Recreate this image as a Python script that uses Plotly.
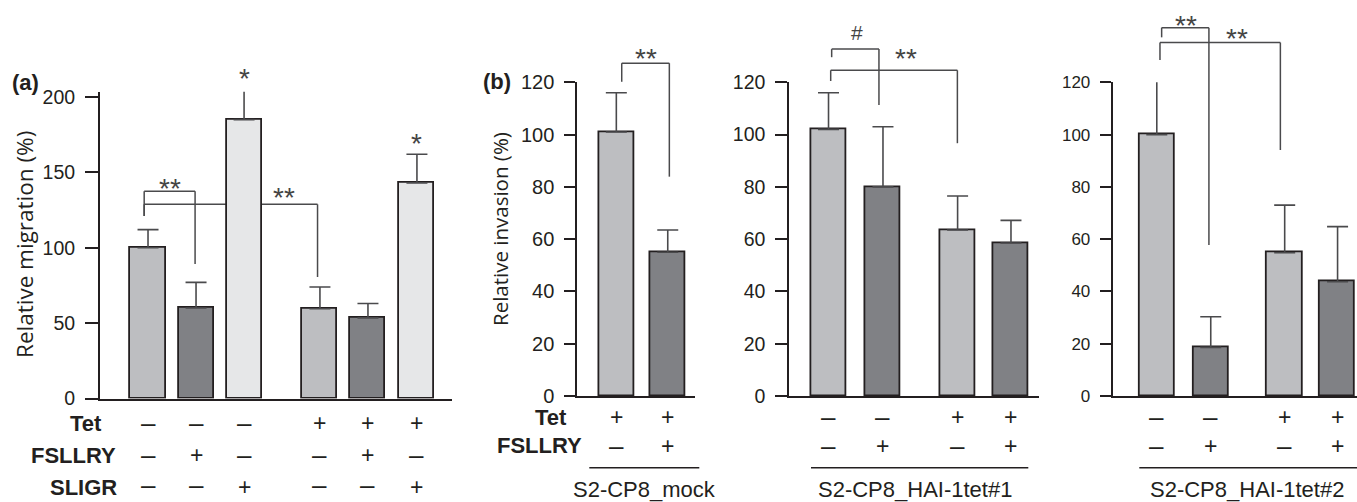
import plotly.graph_objects as go

W, H = 1357, 502

# ---------------- data ----------------
a_tet    = ["–", "–", "–", "+", "+", "+"]
a_fsllry = ["–", "+", "–", "–", "+", "–"]
a_sligr  = ["–", "–", "+", "–", "–", "+"]
a_mean   = [100, 60, 185, 59.5, 53.5, 143]
a_err    = [12, 17, 20, 14.5, 9.5, 19]
a_ticks  = [0, 50, 100, 150, 200]

b1_tet    = ["+", "+"]
b1_fsllry = ["–", "+"]
b1_mean   = [101, 55]
b1_err    = [15, 8.5]

b2_tet    = ["–", "–", "+", "+"]
b2_fsllry = ["–", "+", "–", "+"]
b2_mean   = [102, 80, 63.5, 58.5]
b2_err    = [14, 23, 13, 8.7]

b3_tet    = ["–", "–", "+", "+"]
b3_fsllry = ["–", "+", "–", "+"]
b3_mean   = [100, 18.6, 54.8, 43.7]
b3_err    = [27, 11.7, 18.2, 21.1]

b_ticks = [0, 20, 40, 60, 80, 100, 120]

cell_lines = ["S2-CP8_mock", "S2-CP8_HAI-1tet#1", "S2-CP8_HAI-1tet#2"]

# significance brackets: x1, x2 (axis units), y level, left/right leg ends, label, label x/y
a_sig = [
    dict(x1=0.92, x2=1.98, y=137.4, yl=121, yr=89.2, text="**", tx=1.46, ty=143.8),
    dict(x1=0.92, x2=4.53, y=128.8, yl=121, yr=80.6, text="**", tx=3.83, ty=137.8),
]
a_star = [dict(x=3, y=216.8), dict(x=6.6, y=173.7)]
b1_sig = [dict(x1=1.105, x2=2.031, y=127.3, yl=120.2, yr=83.9, text="**", tx=1.572, ty=131.7)]
b2_sig = [
    dict(x1=1.058, x2=1.926, y=132.7, yl=129.6, yr=111.3, text="#", tx=1.517, ty=139.1),
    dict(x1=1.04, x2=3.366, y=124.6, yl=120.5, yr=96.7, text="**", tx=2.416, ty=131.5),
]
b3_sig = [
    dict(x1=1.09, x2=1.966, y=140.9, yl=137.2, yr=57.8, text="**", tx=1.54, ty=144.2),
    dict(x1=1.059, x2=3.29, y=135.2, yl=128.5, yr=94.1, text="**", tx=2.479, ty=139.1),
]

# ---------------- layout geometry (pixels) ----------------
LIGHT, DARK, PALE = "#bdbec1", "#808185", "#e6e7e8"
INK, LINE, STAR = "#231f20", "#4a4a4c", "#444444"
FONT = "Liberation Sans, Arial, sans-serif"
TFONT = "Open Sans, Noto Sans, sans-serif"

panels = {
    "a":  dict(ax="x",  ay="y",  xd=(100, 452),     yd=(91.7, 398.5), xr=(0, 7.33),     yr=(0, 203.5),
               pos=[1, 2, 3, 4.58, 5.58, 6.6], bw=0.73, fs=19.5, tl=13, ticks=a_ticks),
    "b1": dict(ax="x2", ay="y2", xd=(577.3, 695),   yd=(82.3, 396), xr=(0.241, 2.53),   yr=(0, 120),
               pos=[1, 2], bw=0.68, fs=20, tl=11, ticks=b_ticks),
    "b2": dict(ax="x3", ay="y3", xd=(789.3, 1039.3), yd=(82.3, 396), xr=(0.28, 4.87),   yr=(0, 120),
               pos=[1, 2, 3.37, 4.35], bw=0.64, fs=19.5, tl=12, ticks=b_ticks),
    "b3": dict(ax="x4", ay="y4", xd=(1112.7, 1357), yd=(82.3, 396), xr=(0.183, 4.71),   yr=(0, 120),
               pos=[1, 2, 3.37, 4.35], bw=0.65, fs=17, tl=11, ticks=b_ticks),
}


def PX(p, x):
    d = panels[p]
    return d["xd"][0] + (x - d["xr"][0]) / (d["xr"][1] - d["xr"][0]) * (d["xd"][1] - d["xd"][0])


def PY(p, y):
    d = panels[p]
    return d["yd"][1] - (y - d["yr"][0]) / (d["yr"][1] - d["yr"][0]) * (d["yd"][1] - d["yd"][0])


def fx(px):
    return px / W


def fy(py):
    return 1 - py / H


fig = go.Figure()
layout = dict(width=W, height=H, margin=dict(l=0, r=0, t=0, b=0, pad=0, autoexpand=False),
              paper_bgcolor="white", plot_bgcolor="rgba(0,0,0,0)", showlegend=False,
              bargap=0)
shapes, annots = [], []

series = {
    "a": (a_mean, a_err, [LIGHT, DARK, PALE, LIGHT, DARK, PALE]),
    "b1": (b1_mean, b1_err, [LIGHT, DARK]),
    "b2": (b2_mean, b2_err, [LIGHT, DARK, LIGHT, DARK]),
    "b3": (b3_mean, b3_err, [LIGHT, DARK, LIGHT, DARK]),
}

for i, (p, d) in enumerate(panels.items()):
    n = "" if i == 0 else str(i + 1)
    mean, err, cols = series[p]
    fig.add_trace(go.Bar(
        x=d["pos"], y=mean, width=d["bw"], xaxis=d["ax"], yaxis=d["ay"],
        marker=dict(color=cols, line=dict(color=INK, width=1.8)),
        error_y=dict(type="data", symmetric=False, array=err, arrayminus=[0] * len(err),
                     color=LINE, thickness=1.6, width=10.5),
    ))
    layout["xaxis" + n] = dict(domain=[fx(d["xd"][0]), fx(d["xd"][1])], range=list(d["xr"]),
                               anchor=d["ay"], showline=True, linewidth=2, linecolor=INK,
                               showticklabels=False, ticks="", showgrid=False, zeroline=False,
                               fixedrange=True, automargin=False)
    layout["yaxis" + n] = dict(domain=[fy(d["yd"][1]), fy(d["yd"][0])], range=list(d["yr"]),
                               anchor=d["ax"], showline=True, linewidth=2, linecolor=INK,
                               ticks="outside", ticklen=d["tl"], tickwidth=2, tickcolor=INK,
                               tickvals=d["ticks"], tickfont=dict(family=FONT, size=d["fs"], color=INK),
                               ticklabelstandoff=6, showgrid=False, zeroline=False, fixedrange=True,
                               automargin=False)


def text(px, py, s, size, bold=False, color=INK, family=FONT, xanchor="center", angle=0, yanchor="middle"):
    annots.append(dict(x=fx(px), y=fy(py), xref="paper", yref="paper", text=("<b>%s</b>" % s) if bold else s,
                       showarrow=False, xanchor=xanchor, yanchor=yanchor, textangle=angle,
                       font=dict(family=family, size=size, color=color)))


def line(x0, y0, x1, y1, color=LINE, width=1.5):
    shapes.append(dict(type="line", xref="paper", yref="paper", x0=fx(x0), y0=fy(y0), x1=fx(x1), y1=fy(y1),
                       line=dict(color=color, width=width), layer="below"))


STAR_FS = 28


def brackets(p, sigs):
    for s in sigs:
        xl, xr_ = PX(p, s["x1"]), PX(p, s["x2"])
        yy = PY(p, s["y"])
        line(xl, yy, xr_, yy)
        line(xl, yy, xl, PY(p, s["yl"]))
        line(xr_, yy, xr_, PY(p, s["yr"]))
        size = 21 if s["text"] == "#" else STAR_FS
        shift = 0 if s["text"] == "#" else 0.23 * size
        text(PX(p, s["tx"]), PY(p, s["ty"]) + shift, s["text"], size, color=STAR)


brackets("a", a_sig)
brackets("b1", b1_sig)
brackets("b2", b2_sig)
brackets("b3", b3_sig)
for s in a_star:
    text(PX("a", s["x"]), PY("a", s["y"]) + 0.23 * STAR_FS, "*", STAR_FS, color=STAR)

# sign rows
PLUS_FS, DASH_FS = 23, 26


def sign_row(p, signs, py, yanchor="middle"):
    for x, s in zip(panels[p]["pos"], signs):
        fs = PLUS_FS if s == "+" else DASH_FS
        text(PX(p, x), py, s, fs, yanchor=yanchor)


sign_row("a", a_tet, 423)
sign_row("a", a_fsllry, 455)
sign_row("a", a_sligr, 501.5, yanchor="bottom")
text(104, 423, "Tet", 22, bold=True, xanchor="right")
text(118, 455, "FSLLRY", 22, bold=True, xanchor="right")
text(119, 501.5, "SLIGR", 22, bold=True, xanchor="right", yanchor="bottom")

sign_row("b1", b1_tet, 416.5)
sign_row("b1", b1_fsllry, 446)
text(569.3, 417.5, "Tet", 22, bold=True, xanchor="right")
text(584, 445.5, "FSLLRY", 22, bold=True, xanchor="right")
sign_row("b2", b2_tet, 416.5)
sign_row("b2", b2_fsllry, 446)
sign_row("b3", b3_tet, 416.5)
sign_row("b3", b3_fsllry, 446)

# cell line underlines and labels
line(589.3, 467.7, 699.3, 467.7, color=INK, width=1.5)
line(811, 467.7, 1028.3, 467.7, color=INK, width=1.5)
line(1139.3, 467.7, 1357, 467.7, color=INK, width=1.5)
text(644, 489, cell_lines[0], 22)
text(915, 489, cell_lines[1], 22)
text(1247, 489, cell_lines[2], 22)

# panel letters and axis titles
text(25, 83, "(a)", 22, bold=True)
text(497, 82, "(b)", 22, bold=True)
text(24, 245, "Relative migration (%)", 22.5, family=TFONT, angle=-90)
text(500, 229, "Relative invasion (%)", 20.5, family=TFONT, angle=-90)

layout["shapes"] = shapes
layout["annotations"] = annots
fig.update_layout(**layout)
fig.write_html("out.html", config={"displayModeBar": False},
               post_script="document.body.style.margin='0';document.body.style.overflow='hidden';")
